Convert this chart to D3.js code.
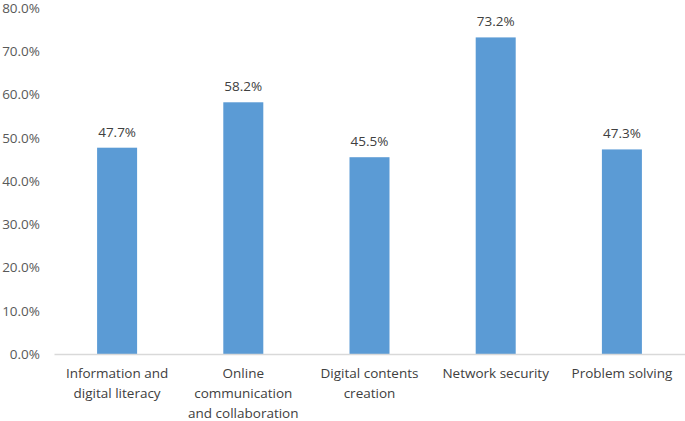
<!DOCTYPE html>
<html><head><meta charset="utf-8">
<script src="https://cdn.jsdelivr.net/npm/d3@7"></script>
<style>body{margin:0;background:#fff}svg{display:block}</style>
</head><body>
<script>
const categories = [["Information and","digital literacy"],["Online","communication","and collaboration"],["Digital contents","creation"],["Network security"],["Problem solving"]];
const values = [47.7, 58.2, 45.5, 73.2, 47.3];
const yTicks = [0,10,20,30,40,50,60,70,80];

const W=685,H=421, m={l:54,r:0,t:8,b:67};
const font = "'Open Sans', sans-serif";
const fs = 13.5;
const svg = d3.select("body").append("svg").attr("width",W).attr("height",H);
const x = d3.scaleBand().domain(d3.range(values.length)).range([m.l,W-m.r]).paddingInner(0.683).paddingOuter(0.3415);
const y = d3.scaleLinear().domain([0,80]).range([H-m.b,m.t]);

const ya = svg.append("g").attr("transform",`translate(${m.l},0)`)
  .call(d3.axisLeft(y).tickValues(yTicks).tickFormat(d=>d.toFixed(1)+"%").tickSize(0).tickPadding(14));
ya.select(".domain").remove();
ya.selectAll("text").attr("font-family",font).attr("font-size",fs).attr("fill","#595959");

svg.selectAll("rect.bar").data(values).join("rect").attr("class","bar")
  .attr("x",(d,i)=>x(i)).attr("width",x.bandwidth())
  .attr("y",d=>y(d)).attr("height",d=>y(0)-y(d)).attr("fill","#5b9bd5");

svg.selectAll("text.val").data(values).join("text").attr("class","val")
  .attr("x",(d,i)=>x(i)+x.bandwidth()/2).attr("y",d=>y(d)-11)
  .attr("text-anchor","middle").attr("font-family",font).attr("font-size",fs).attr("fill","#404040")
  .text(d=>d.toFixed(1)+"%");

const xa = svg.append("g").attr("transform",`translate(0,${y(0)})`)
  .call(d3.axisBottom(x).tickSize(0).tickFormat(""));
xa.select(".domain").attr("stroke","#d9d9d9").attr("stroke-width",1.3);

svg.selectAll("text.cat").data(categories).join("text").attr("class","cat")
  .attr("x",(d,i)=>x(i)+x.bandwidth()/2).attr("y",y(0)+24)
  .attr("text-anchor","middle").attr("font-family",font).attr("font-size",fs).attr("fill","#404040")
  .selectAll("tspan").data(d=>d).join("tspan")
  .attr("x",function(){return this.parentNode.getAttribute("x");})
  .attr("dy",(d,i)=>i?20:0).text(d=>d);
</script>
</body></html>
